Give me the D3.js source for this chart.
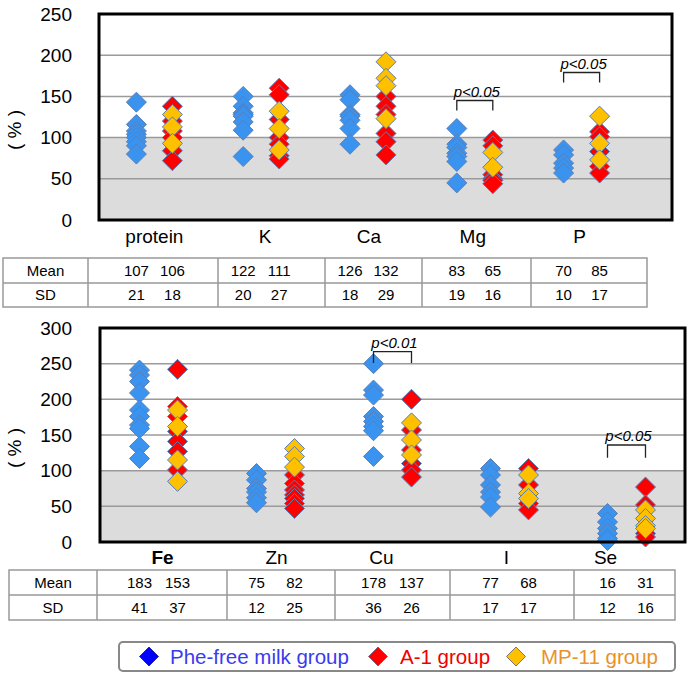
<!DOCTYPE html>
<html><head><meta charset="utf-8">
<script src="https://cdn.jsdelivr.net/npm/d3@7"></script>
<style>
html,body{margin:0;padding:0;background:#fff;}
svg{display:block;font-family:"Liberation Sans",Arial,Helvetica,sans-serif;}
</style></head>
<body>
<svg id="chart" width="690" height="675"></svg>
<script>
// ---------- DATA ----------
const topCategories = ["protein", "K", "Ca", "Mg", "P"];
const topPhe = [
  [143, 116, 108, 104, 100, 95, 90, 80],
  [150, 138, 130, 128, 126, 119, 109, 77],
  [152, 146, 128, 126, 121, 111, 92],
  [111, 92, 88, 81, 77, 71, 45],
  [85, 79, 69, 63, 57]
];
const topA1 = [
  [138, 120, 108, 100, 84, 72],
  [160, 152, 122, 100, 92, 78, 74],
  [150, 138, 128, 105, 95, 79],
  [97, 90, 55, 50, 48, 44],
  [107, 101, 83, 65, 57]
];
const topMP11 = [
  [128, 113, 93],
  [132, 111, 85],
  [192, 172, 163, 123],
  [82, 64],
  [126, 93, 73]
];
const topMean = [[107, 106], [122, 111], [126, 132], [83, 65], [70, 85]];
const topSD = [[21, 18], [20, 27], [18, 29], [19, 16], [10, 17]];
const topTicks = [0, 50, 100, 150, 200, 250];
const topSig = [
  {cat: "Mg", label: "p<0.05", top: 145, leg: 133},
  {cat: "P", label: "p<0.05", top: 179, leg: 167}
];

const botCategories = ["Fe", "Zn", "Cu", "I", "Se"];
const botPhe = [
  [241, 234, 225, 209, 185, 176, 164, 159, 134, 117],
  [96, 87, 75, 70, 62, 55],
  [250, 213, 206, 176, 169, 162, 156, 120],
  [103, 94, 80, 70, 63, 49],
  [40, 28, 19, 12, 5, 2]
];
const botA1 = [
  [242, 190, 176, 155, 141, 127, 101],
  [94, 82, 73, 66, 61, 54, 47],
  [200, 157, 129, 110, 101, 91],
  [103, 80, 54, 45],
  [77, 52, 12, 7]
];
const botMP11 = [
  [185, 162, 115, 85],
  [131, 120, 105],
  [167, 143, 122],
  [94, 68, 61],
  [45, 33, 23, 19]
];
const botMean = [[183, 153], [75, 82], [178, 137], [77, 68], [16, 31]];
const botSD = [[41, 37], [12, 25], [36, 26], [17, 17], [12, 16]];
const botTicks = [0, 50, 100, 150, 200, 250, 300];
const botSig = [
  {cat: "Cu", label: "p<0.01", top: 267, leg: 251},
  {cat: "Se", label: "p<0.05", top: 136, leg: 118}
];

const legendItems = ["Phe-free milk group", "A-1 group", "MP-11 group"];

// ---------- STYLE ----------
const FONT = '"Liberation Sans",Arial,Helvetica,sans-serif';
const C_PHE = "#3a93ee", C_A1 = "#ff0000", C_MP = "#ffc000", C_EDGE = "#5a7fb8";
const svg = d3.select("#chart");
const diamond = r => `M0,${-r}L${r},0L0,${r}L${-r},0Z`;

function panel(opt) {
  const g = svg.append("g");
  const y = d3.scaleLinear().domain(opt.domain).range([opt.y1, opt.y0]);
  const x = d3.scaleBand().domain(opt.cats).range(opt.bandRange);
  const cx = c => x(c) + x.bandwidth() / 2;

  // grey band 0..100
  g.append("rect").attr("x", opt.x0).attr("width", opt.x1 - opt.x0)
    .attr("y", y(100)).attr("height", y(0) - y(100)).attr("fill", "#dcdcdc");
  // grid
  g.selectAll("line.grid").data(opt.ticks.filter(t => t > 0 && t < opt.domain[1]))
    .join("line").attr("class", "grid")
    .attr("x1", opt.x0).attr("x2", opt.x1)
    .attr("y1", d => y(d)).attr("y2", d => y(d))
    .attr("stroke", "#9a9a9a").attr("stroke-width", 1.5);

  // y axis labels
  const ax = g.append("g").attr("transform", `translate(${opt.x0},0)`)
    .call(d3.axisLeft(y).tickValues(opt.ticks).tickSize(0).tickPadding(opt.x0 - 72));
  ax.select(".domain").remove();
  ax.selectAll("text").attr("font-size", 19).attr("font-family", FONT).attr("fill", "#000");

  // markers
  const pts = [];
  opt.cats.forEach((c, i) => {
    opt.phe[i].forEach(v => pts.push({x: cx(c) - opt.off, v, f: C_PHE}));
    opt.a1[i].forEach(v => pts.push({x: cx(c) + opt.off, v, f: C_A1}));
    opt.mp[i].forEach(v => pts.push({x: cx(c) + opt.off, v, f: C_MP}));
  });
  g.selectAll("path.pt").data(pts).join("path").attr("class", "pt")
    .attr("d", diamond(10))
    .attr("transform", d => `translate(${d.x},${y(d.v)})`)
    .attr("fill", d => d.f).attr("stroke", C_EDGE).attr("stroke-width", 1);

  // frame
  g.append("rect").attr("x", opt.x0).attr("y", opt.y0)
    .attr("width", opt.x1 - opt.x0).attr("height", opt.y1 - opt.y0)
    .attr("fill", "none").attr("stroke", "#000").attr("stroke-width", 3);

  // y title
  g.append("text").attr("transform", `translate(21,${(opt.y0 + opt.y1) / 2 + 13}) rotate(-90)`)
    .attr("text-anchor", "middle").attr("font-size", 19).attr("font-family", FONT)
    .text("( % )");

  // category labels
  opt.cats.forEach((c, i) => {
    g.append("text").attr("x", cx(c) + (opt.labelShift[i] || 0)).attr("y", opt.labelY)
      .attr("text-anchor", "middle").attr("font-size", 19).attr("font-family", FONT)
      .attr("font-weight", opt.boldFirst && i === 0 ? "bold" : "normal")
      .text(c);
  });

  // significance brackets
  opt.sig.forEach(s => {
    const xa = cx(s.cat) - opt.off, xb = cx(s.cat) + opt.off;
    g.append("path")
      .attr("d", `M${xa},${y(s.leg)}V${y(s.top)}H${xb}V${y(s.leg)}`)
      .attr("fill", "none").attr("stroke", "#222").attr("stroke-width", 1.3);
    g.append("text").attr("x", (xa + xb) / 2 + 2).attr("y", y(s.top) - 4)
      .attr("text-anchor", "middle").attr("font-size", 15).attr("font-style", "italic")
      .attr("font-family", FONT).text(s.label);
  });

  // table
  const t = svg.append("g");
  const [ra, rb, rc] = opt.rows;
  const cols = opt.cols;
  t.append("rect").attr("x", cols[0]).attr("y", ra).attr("width", cols[cols.length - 1] - cols[0])
    .attr("height", rc - ra).attr("fill", "none").attr("stroke", "#999").attr("stroke-width", 1.5);
  t.append("line").attr("x1", cols[0]).attr("x2", cols[cols.length - 1]).attr("y1", rb).attr("y2", rb)
    .attr("stroke", "#999").attr("stroke-width", 1.5);
  cols.slice(1, -1).forEach(cxl => t.append("line").attr("x1", cxl).attr("x2", cxl)
    .attr("y1", ra).attr("y2", rc).attr("stroke", "#999").attr("stroke-width", 1.5));
  const rowMid = [(ra + rb) / 2, (rb + rc) / 2];
  const rowLab = ["Mean", "SD"];
  [opt.mean, opt.sd].forEach((arr, r) => {
    t.append("text").attr("x", (cols[0] + cols[1]) / 2).attr("y", rowMid[r] + 5)
      .attr("text-anchor", "middle").attr("font-size", 15).attr("font-family", FONT).text(rowLab[r]);
    opt.cats.forEach((c, i) => {
      [cx(c) - opt.off, cx(c) + opt.off].forEach((xx, k) => {
        t.append("text").attr("x", xx).attr("y", rowMid[r] + 5)
          .attr("text-anchor", "middle").attr("font-size", 15).attr("font-family", FONT)
          .text(arr[i][k]);
      });
    });
  });
}

panel({
  cats: topCategories, phe: topPhe, a1: topA1, mp: topMP11, mean: topMean, sd: topSD,
  ticks: topTicks, sig: topSig, domain: [0, 250],
  x0: 99, x1: 672, y0: 14, y1: 220, bandRange: [101, 635], off: 18,
  labelY: 243, labelShift: [0, 4, 1, -2, -2],
  rows: [258, 283, 307], cols: [3, 88, 218, 325, 422, 531, 647]
});

panel({
  cats: botCategories, phe: botPhe, a1: botA1, mp: botMP11, mean: botMean, sd: botSD,
  ticks: botTicks, sig: botSig, domain: [0, 300],
  x0: 100, x1: 685, y0: 328, y1: 542, bandRange: [100, 685], off: 19,
  labelY: 564, labelShift: [4, 1, -11, -3, -21], boldFirst: true,
  rows: [570, 595, 620], cols: [9, 97, 227, 335, 450, 574, 675]
});

// legend
const lg = svg.append("g");
lg.append("rect").attr("x", 119).attr("y", 642).attr("width", 556).attr("height", 29)
  .attr("rx", 4).attr("fill", "#fff").attr("stroke", "#888").attr("stroke-width", 2);
const lgPos = [{d: 149, t: 170}, {d: 378, t: 400}, {d: 516, t: 541}];
const lgFill = ["#0000ff", "#ff0000", "#ffc000"];
const lgStroke = ["#2a2aa0", "#7a6a80", "#7a7a7a"];
const lgText = ["#3a3af0", "#ee0000", "#e8922a"];
legendItems.forEach((name, i) => {
  lg.append("path").attr("d", diamond(9.5)).attr("transform", `translate(${lgPos[i].d},656.5)`)
    .attr("fill", lgFill[i]).attr("stroke", lgStroke[i]).attr("stroke-width", 1);
  lg.append("text").attr("x", lgPos[i].t).attr("y", 663.5).attr("font-size", 20.5)
    .attr("font-family", FONT).attr("fill", lgText[i]).text(name);
});
</script>
</body></html>
